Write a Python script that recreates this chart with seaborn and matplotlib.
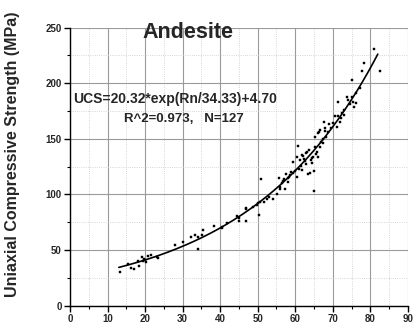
import numpy as np
import pandas as pd
import matplotlib
matplotlib.use("Agg")
import matplotlib.pyplot as plt
from matplotlib.ticker import MultipleLocator
import seaborn as sns

rn = [13.3, 15.5, 16.2, 17.0, 18.1, 18.5, 19.2, 19.5, 19.8, 20.1, 20.2, 20.7, 21.5, 23.1, 23.5,
      28.0, 30.0, 32.1, 33.3, 34.2, 34.2, 35.1, 35.3, 38.3, 40.4, 40.6, 41.7, 44.5, 44.9, 45.1,
      46.9, 46.9, 47.0, 48.8, 49.8, 50.2, 50.4, 50.6, 50.9, 51.8, 52.4, 53.0, 54.2, 55.2, 55.7,
      55.9, 56.0, 56.4, 56.8, 57.0, 57.2, 57.5, 58.0, 58.1, 58.4, 58.6, 58.8, 59.5, 59.5, 60.0,
      60.4, 60.4, 60.8, 60.9, 61.2, 61.6, 61.7, 61.9, 62.1, 62.4, 62.5, 62.8, 63.0, 63.2, 63.5,
      63.6, 63.9, 64.1, 64.4, 64.6, 64.8, 65.0, 65.0, 65.2, 65.2, 65.5, 65.7, 66.1, 66.1, 66.4,
      66.6, 66.7, 66.8, 67.3, 67.4, 67.6, 67.8, 67.9, 68.2, 68.8, 69.0, 69.5, 70.1, 70.6, 71.2,
      71.4, 71.4, 71.9, 72.3, 72.5, 72.9, 73.0, 73.9, 74.1, 74.5, 75.0, 75.2, 75.4, 75.6, 76.3,
      76.3, 77.2, 77.7, 78.3, 80.9, 82.5]
ucs = [30.6, 37.2, 34.2, 33.0, 40.5, 35.7, 43.8, 40.5, 42.0, 41.1, 39.6, 45.0, 45.3, 44.0, 43.2,
       54.3, 57.0, 61.5, 63.3, 62.0, 51.0, 63.9, 68.0, 71.4, 69.6, 71.0, 74.6, 80.7, 79.0, 76.2,
       76.2, 86.7, 88.0, 88.5, 90.5, 92.0, 81.6, 93.5, 114.0, 93.5, 95.7, 97.5, 95.7, 100.5, 114.6,
       104.7, 107.0, 110.0, 112.4, 113.5, 104.7, 118.4, 111.0, 114.6, 116.0, 117.5, 120.5, 119.6, 129.5, 121.0,
       115.5, 134.0, 144.0, 122.7, 131.0, 125.6, 135.5, 122.0, 134.6, 132.0, 130.0, 127.0, 137.0, 138.5, 118.2,
       140.0, 119.0, 131.0, 128.0, 132.5, 134.0, 121.4, 103.1, 151.7, 143.0, 136.0, 138.5, 134.0, 155.0, 156.5,
       143.0, 158.0, 147.5, 149.6, 146.0, 165.5, 157.4, 159.5, 152.0, 156.5, 163.0, 160.0, 164.6, 170.6, 161.0,
       183.0, 170.3, 165.5, 168.5, 173.0, 171.5, 176.0, 188.0, 185.0, 181.0, 188.0, 203.0, 183.5, 178.4, 191.0,
       182.0, 195.5, 211.3, 218.5, 230.6, 211.0]

fit_a, fit_b, fit_c = 20.32, 34.33, 4.70
fit_x = np.linspace(13.0, 82.0, 200)
fit_y = fit_a * np.exp(fit_x / fit_b) + fit_c

df = pd.DataFrame({"Rn": rn, "UCS": ucs})
fit_df = pd.DataFrame({"Rn": fit_x, "UCS": fit_y})

sns.set_style("white")
plt.rcParams['font.family'] = ['Liberation Sans', 'DejaVu Sans']

fig = plt.figure(figsize=(4.17, 3.29), dpi=100)
ax = fig.add_axes([0.168, 0.071, 0.81, 0.845])

ax.set_xlim(0, 90)
ax.set_ylim(0, 250)
ax.xaxis.set_major_locator(MultipleLocator(10))
ax.xaxis.set_minor_locator(MultipleLocator(5))
ax.yaxis.set_major_locator(MultipleLocator(50))
ax.yaxis.set_minor_locator(MultipleLocator(25))

ax.grid(True, which='major', color='#9a9a9a', linewidth=0.8, linestyle='-')
ax.grid(True, which='minor', color='#c8c8c8', linewidth=0.6, linestyle=':')
ax.set_axisbelow(True)

sns.lineplot(data=fit_df, x="Rn", y="UCS", ax=ax, color='black', linewidth=1.2)
sns.scatterplot(data=df, x="Rn", y="UCS", ax=ax, color='black', marker='s', s=4,
                edgecolor='black', linewidth=0.3)

for s in ['top', 'right']:
    ax.spines[s].set_visible(False)
for s in ['left', 'bottom']:
    ax.spines[s].set_color('black')
    ax.spines[s].set_linewidth(1.0)

ax.tick_params(which='major', direction='out', length=4, width=1, color='black',
               labelsize=7, pad=2, bottom=True, left=True)
ax.tick_params(which='minor', direction='out', length=2, width=0.8, color='black',
               bottom=True, left=True)
for lab in ax.get_xticklabels() + ax.get_yticklabels():
    lab.set_fontweight('bold')

ax.set_xlabel("")
ax.set_ylabel("Uniaxial Compressive Strength (MPa)", fontsize=11.5, fontweight='bold')
ax.yaxis.set_label_coords(-0.148, 0.545)

ax.text(31.4, 246, "Andesite", fontsize=15.5, fontweight='bold', ha='center', va='center')
ax.text(0.9, 186, "UCS=20.32*exp(Rn/34.33)+4.70", fontsize=10, fontweight='bold',
        ha='left', va='center')
ax.text(14.5, 168, "R^2=0.973,   N=127", fontsize=9.5, fontweight='bold',
        ha='left', va='center')

fig.savefig("out.png", dpi=100)
